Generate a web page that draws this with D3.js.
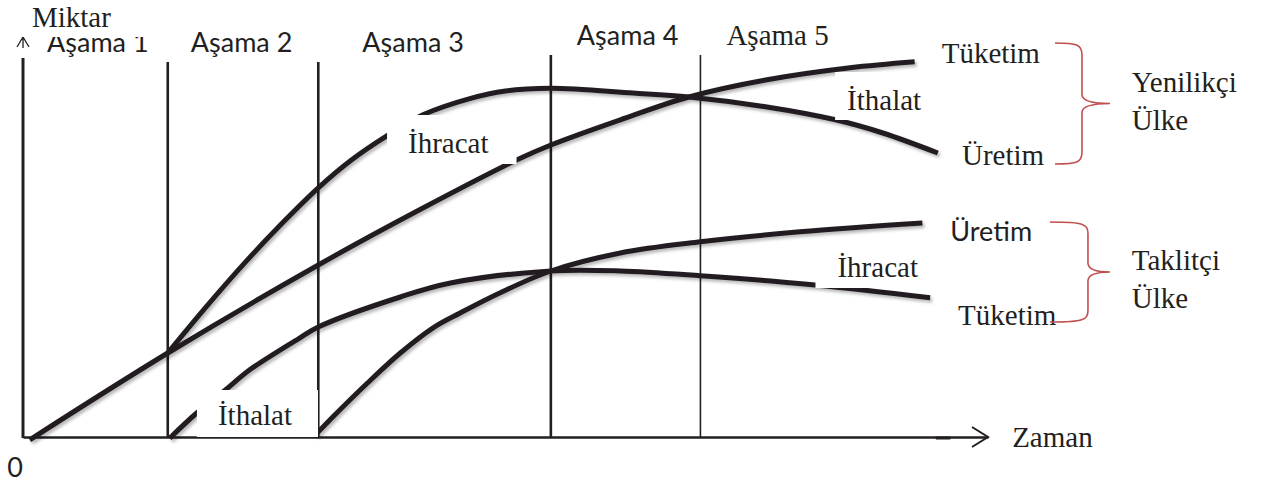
<!DOCTYPE html>
<html>
<head>
<meta charset="utf-8">
<script src="https://cdn.jsdelivr.net/npm/d3@7"></script>
<style>
  body { margin: 0; background: #fff; }
  svg { display: block; }
</style>
</head>
<body>
<script>
// stage boundaries on the time axis (0 = vertical axis)
var stageTimes = [0, 15.0, 30.6, 54.7, 70.2];
var stageLabels = ["Aşama 1", "Aşama 2", "Aşama 3", "Aşama 4", "Aşama 5"];

// [time, quantity]
var yenTuketim = [[0.7, -0.7], [15.0, 21], [30.6, 43], [41.1, 56.8], [51.2, 69.3], [54.7, 73],
                  [61.9, 79.3], [69.0, 85], [77.1, 89.3], [85.7, 92.3], [92.4, 93.8]];
var yenUretim = [[15.0, 21], [19.0, 32.6], [23.0, 43.6], [27.0, 53.8], [30.6, 62.3], [34.0, 69.2],
                 [37.7, 75.3], [41.5, 80.6], [46.3, 84.6], [50.0, 86.5], [54.7, 87.2],
                 [63.2, 86], [69.0, 85], [77.1, 82.5], [84.2, 79.3], [89.1, 76], [94.8, 71]];
var takTuketim = [[15.2, -0.3], [18.0, 6], [21.0, 11.8], [23.5, 16.8], [28.7, 24.8], [30.6, 27.5],
                  [39.1, 35], [44.3, 38.5], [54.7, 41.5], [61.9, 41.5], [70.2, 40.3], [82.1, 38], [94.0, 34.8]];
var takUretim = [[30.3, 0.5], [32.1, 5], [35.7, 13.5], [39.1, 21], [42.5, 27.3], [45.3, 31],
                 [49.4, 36], [54.7, 41.5], [61.9, 46], [70.2, 48.8], [80.5, 51.3], [93.2, 53.5]];

var curves = [yenTuketim, yenUretim, takTuketim, takUretim];

var width = 1261, height = 487;
var ink = "#231f20";
var serif = "'Liberation Serif', 'Times New Roman', serif";
var sans = "Lato, 'Open Sans', sans-serif";

var xScale = d3.scaleLinear().domain([0, 100]).range([23, 988]);
var yScale = d3.scaleLinear().domain([0, 100]).range([437, 37]);

var svg = d3.select("body").append("svg")
    .attr("width", width)
    .attr("height", height);

var defs = svg.append("defs");
defs.append("filter").attr("id", "shadow")
    .attr("x", "-10%").attr("y", "-10%").attr("width", "130%").attr("height", "140%")
  .append("feDropShadow")
    .attr("dx", 2).attr("dy", 2.5).attr("stdDeviation", 1.4)
    .attr("flood-color", "#000").attr("flood-opacity", 0.28);

// stage separators
var stageTop = [null, 93.75, 93.75, 95.5, 95.5];
var stageWidth = [0, 2.6, 2.6, 2.6, 1.6];
svg.append("g").selectAll("line")
    .data(stageTimes.slice(1))
    .enter().append("line")
    .attr("x1", function(d) { return xScale(d); })
    .attr("x2", function(d) { return xScale(d); })
    .attr("y1", yScale(0))
    .attr("y2", function(d, i) { return yScale(stageTop[i + 1]); })
    .attr("stroke", ink)
    .attr("stroke-width", function(d, i) { return stageWidth[i + 1]; });

// x axis, no ticks
var xAxis = svg.append("g")
    .attr("transform", "translate(0," + yScale(0) + ")")
    .call(d3.axisBottom(xScale).tickValues([]).tickSizeOuter(0));
xAxis.select(".domain").attr("stroke", ink).attr("stroke-width", 2.4);
xAxis.append("path")
    .attr("d", "M" + (xScale(100) - 16) + ",-10L" + xScale(100) + ",0L" + (xScale(100) - 16) + ",10")
    .attr("fill", "none").attr("stroke", ink).attr("stroke-width", 2);
xAxis.append("line")
    .attr("x1", xScale(94.6)).attr("x2", xScale(96.1))
    .attr("y1", 1).attr("y2", 1)
    .attr("stroke", ink).attr("stroke-width", 3);

// y axis, no ticks
var yAxis = svg.append("g")
    .attr("transform", "translate(" + xScale(0) + ",0)")
    .call(d3.axisLeft(yScale).tickValues([]).tickSizeOuter(0));
yAxis.select(".domain").attr("stroke", "none");
yAxis.append("line")
    .attr("y1", yScale(0) + 1).attr("y2", yScale(94.75))
    .attr("stroke", ink).attr("stroke-width", 3);
yAxis.append("path")
    .attr("d", "M-6," + (yScale(100) + 10) + "L0," + yScale(100) + "L6," + (yScale(100) + 10) +
               "M0," + yScale(100) + "L0," + (yScale(100) + 11))
    .attr("fill", "none").attr("stroke", ink).attr("stroke-width", 1.3);

// curves
var line = d3.line()
    .x(function(d) { return xScale(d[0]); })
    .y(function(d) { return yScale(d[1]); })
    .curve(d3.curveCatmullRom.alpha(0.5));

svg.append("g").attr("filter", "url(#shadow)")
    .selectAll("path")
    .data(curves)
    .enter().append("path")
    .attr("d", line)
    .attr("fill", "none")
    .attr("stroke", ink)
    .attr("stroke-width", 5);

// stage labels
var stageLabelDx = [24, 23, 44, 26, 26];
var stageLabelY = [52, 52, 52, 45, 45];
svg.append("g").selectAll("text")
    .data(stageLabels)
    .enter().append("text")
    .attr("x", function(d, i) { return xScale(stageTimes[i]) + stageLabelDx[i]; })
    .attr("y", function(d, i) { return stageLabelY[i]; })
    .attr("font-family", function(d, i) { return i == 4 ? serif : sans; })
    .attr("font-size", function(d, i) { return i == 4 ? 29 : 27; })
    .attr("fill", ink)
    .text(function(d) { return d; });

// labels sitting on white boxes: [text, time, quantity, padL, padT, padR, padB]
var boxedLabels = [
  ["İhracat", 39.9, 71, 21, 12, 28, 5],
  ["İthalat", 85.4, 81.75, 12, 12, 3, 4],
  ["İhracat", 84.4, 40, 22, 12, 7, 5],
  ["İthalat", 20.2, 3, 21, 9, 26, 6],
  ["Miktar", 0.93, 102.5, 17, 30, 38, 4]
];
boxedLabels.forEach(function(b) {
  var g = svg.append("g");
  var t = g.append("text")
      .attr("x", xScale(b[1]))
      .attr("y", yScale(b[2]))
      .attr("font-family", serif)
      .attr("font-size", 29)
      .attr("fill", ink)
      .text(b[0]);
  var bb = t.node().getBBox();
  g.insert("rect", "text")
      .attr("x", bb.x - b[3])
      .attr("y", bb.y - b[4])
      .attr("width", bb.width + b[3] + b[5])
      .attr("height", bb.height + b[4] + b[6])
      .attr("fill", "#fff");
});

// plain labels: [text, time, quantity, font]
var plainLabels = [
  ["Tüketim", 95.2, 93.5, serif],
  ["Üretim", 97.3, 68, serif],
  ["Üretim", 96.1, 49, sans],
  ["Tüketim", 96.9, 28, serif],
  ["Yenilikçi", 114.9, 86.25, serif],
  ["Ülke", 114.9, 76.75, serif],
  ["Taklitçi", 114.9, 41.75, serif],
  ["Ülke", 114.9, 32.25, serif],
  ["Zaman", 102.5, -2.5, serif]
];
svg.append("g").selectAll("text")
    .data(plainLabels)
    .enter().append("text")
    .attr("x", function(d) { return xScale(d[1]); })
    .attr("y", function(d) { return yScale(d[2]); })
    .attr("font-family", function(d) { return d[3]; })
    .attr("font-size", function(d) { return d[3] == sans ? 27 : 29; })
    .attr("fill", ink)
    .text(function(d) { return d[0]; });

svg.append("text")
    .attr("x", xScale(0))
    .attr("y", yScale(0) + 40)
    .attr("text-anchor", "end")
    .attr("font-family", sans)
    .attr("font-size", 27)
    .attr("fill", ink)
    .text("0");

// red braces grouping the two countries: [left, spine, tip, top, bottom]
var braces = [
  [106.94, 109.74, 112.64, 98.5, 68.25],
  [106.42, 110.36, 112.64, 53.75, 28.75]
];
var bracePath = function(b) {
  var xl = xScale(b[0]), xv = xScale(b[1]), xt = xScale(b[2]);
  var y0 = yScale(b[3]), y1 = yScale(b[4]), ym = (y0 + y1) / 2;
  return "M" + xl + "," + y0 +
    "C" + (xv - 4) + "," + y0 + " " + xv + "," + (y0 + 2) + " " + xv + "," + (y0 + 12) +
    "L" + xv + "," + (ym - 9) +
    "Q" + xv + "," + ym + " " + xt + "," + ym +
    "Q" + xv + "," + ym + " " + xv + "," + (ym + 9) +
    "L" + xv + "," + (y1 - 12) +
    "C" + xv + "," + (y1 - 2) + " " + (xv - 4) + "," + y1 + " " + xl + "," + y1;
};
svg.append("g").selectAll("path")
    .data(braces)
    .enter().append("path")
    .attr("d", bracePath)
    .attr("fill", "none")
    .attr("stroke", "#c0504d")
    .attr("stroke-width", 1.6);
</script>
</body>
</html>
